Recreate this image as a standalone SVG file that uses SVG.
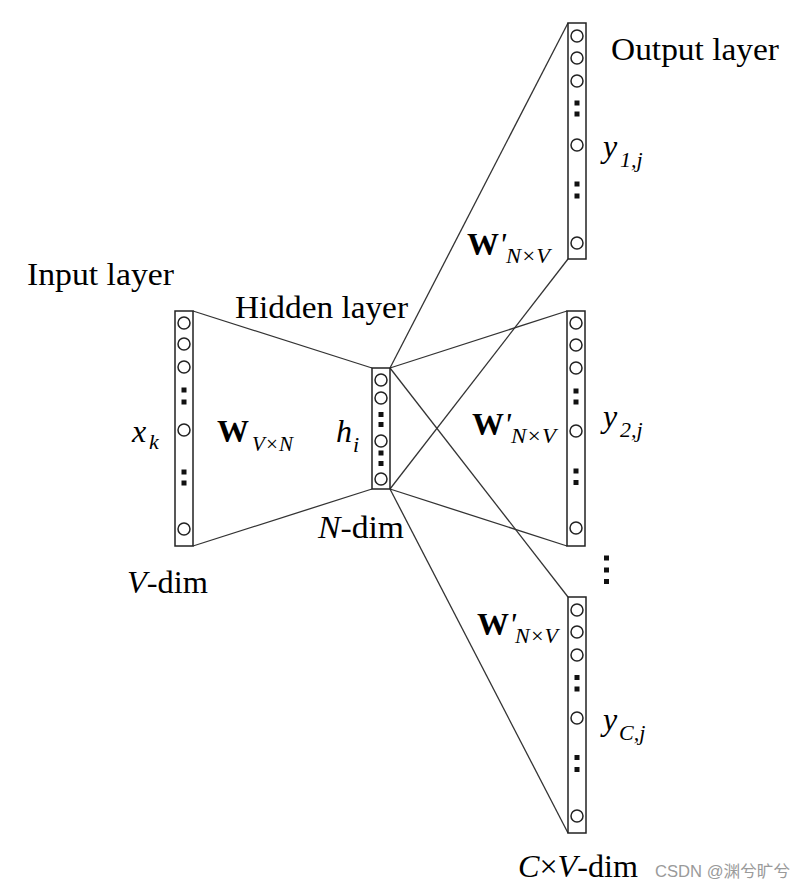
<svg xmlns="http://www.w3.org/2000/svg" width="807" height="892" viewBox="0 0 807 892">
<style>
.box{fill:#fff;stroke:#222;stroke-width:1.5}
.n{fill:#fff;stroke:#222;stroke-width:1.5}
.d{fill:#111}
.conn line{stroke:#333;stroke-width:1.3}
text{font-family:"Liberation Serif","Times New Roman",serif;fill:#000}
.lbl{font-size:31px}
.big{font-size:32px}
.it{font-style:italic}
.b{font-weight:bold}
.sub{font-size:22px;font-style:italic}
.wm{font-family:"Liberation Sans","Noto Sans CJK SC",sans-serif;font-size:16px;fill:#9a9a9a}
</style>
<rect width="807" height="892" fill="#fff"/>
<g class="conn" id="connectors">
<line x1="193" y1="311" x2="372" y2="368"/>
<line x1="193" y1="546" x2="372" y2="489"/>
<line x1="390" y1="368" x2="568" y2="23"/>
<line x1="390" y1="368" x2="567" y2="311"/>
<line x1="390" y1="368" x2="568" y2="597"/>
<line x1="390" y1="489" x2="568" y2="259"/>
<line x1="390" y1="489" x2="567" y2="546"/>
<line x1="390" y1="489" x2="568" y2="833"/>
</g>
<g id="input-layer">
<rect class="box" x="175" y="311" width="18" height="235"/>
<circle class="n" cx="184" cy="323" r="6"/>
<circle class="n" cx="184" cy="344" r="6"/>
<circle class="n" cx="184" cy="367" r="6"/>
<rect class="d" x="181.5" y="387.5" width="5" height="5"/>
<rect class="d" x="181.5" y="399.5" width="5" height="5"/>
<circle class="n" cx="184" cy="430" r="6"/>
<rect class="d" x="181.5" y="469.5" width="5" height="5"/>
<rect class="d" x="181.5" y="480.5" width="5" height="5"/>
<circle class="n" cx="184" cy="529" r="6"/>
</g>
<g id="hidden-layer">
<rect class="box" x="372" y="368" width="18" height="121"/>
<circle class="n" cx="381" cy="380" r="6"/>
<circle class="n" cx="381" cy="398" r="6"/>
<rect class="d" x="378.5" y="412" width="5" height="5"/>
<rect class="d" x="378.5" y="422" width="5" height="5"/>
<circle class="n" cx="381" cy="441" r="6"/>
<rect class="d" x="378.5" y="450.5" width="5" height="5"/>
<rect class="d" x="378.5" y="461" width="5" height="5"/>
<circle class="n" cx="381" cy="479" r="6"/>
</g>
<g id="output-layer-1">
<rect class="box" x="568" y="23" width="18" height="236"/>
<circle class="n" cx="577" cy="36" r="6"/>
<circle class="n" cx="577" cy="58" r="6"/>
<circle class="n" cx="577" cy="81" r="6"/>
<rect class="d" x="574.5" y="100.5" width="5" height="5"/>
<rect class="d" x="574.5" y="111.5" width="5" height="5"/>
<circle class="n" cx="577" cy="145" r="6"/>
<rect class="d" x="574.5" y="181.5" width="5" height="5"/>
<rect class="d" x="574.5" y="193.5" width="5" height="5"/>
<circle class="n" cx="577" cy="243" r="6"/>
</g>
<g id="output-layer-2">
<rect class="box" x="567" y="311" width="18" height="235"/>
<circle class="n" cx="576" cy="323" r="6"/>
<circle class="n" cx="576" cy="345" r="6"/>
<circle class="n" cx="576" cy="368" r="6"/>
<rect class="d" x="573.5" y="388.5" width="5" height="5"/>
<rect class="d" x="573.5" y="399.5" width="5" height="5"/>
<circle class="n" cx="576" cy="431" r="6"/>
<rect class="d" x="573.5" y="468.5" width="5" height="5"/>
<rect class="d" x="573.5" y="480" width="5" height="5"/>
<circle class="n" cx="576" cy="528" r="6"/>
</g>
<g id="output-layer-c">
<rect class="box" x="568" y="597" width="18" height="236"/>
<circle class="n" cx="577" cy="610" r="6"/>
<circle class="n" cx="577" cy="632" r="6"/>
<circle class="n" cx="577" cy="655" r="6"/>
<rect class="d" x="574.5" y="675" width="5" height="5"/>
<rect class="d" x="574.5" y="686.5" width="5" height="5"/>
<circle class="n" cx="577" cy="718" r="6"/>
<rect class="d" x="574.5" y="755" width="5" height="5"/>
<rect class="d" x="574.5" y="767" width="5" height="5"/>
<circle class="n" cx="577" cy="816" r="6"/>
</g>
<g id="vdots">
<rect class="d" x="604" y="555.5" width="5" height="5"/>
<rect class="d" x="604" y="567.5" width="5" height="5"/>
<rect class="d" x="604" y="579" width="5" height="5"/>
</g>
<g id="labels">
<text class="lbl" x="27" y="285" textLength="147" lengthAdjust="spacingAndGlyphs">Input layer</text>
<text class="lbl" x="235" y="318" textLength="173" lengthAdjust="spacingAndGlyphs">Hidden layer</text>
<text class="lbl" x="611" y="60" textLength="168" lengthAdjust="spacingAndGlyphs">Output layer</text>
<text class="big it" x="132" y="442">x</text>
<text class="sub" x="149" y="449">k</text>
<text class="big b" x="217" y="442">W</text>
<text class="sub" x="252" y="451" textLength="41" lengthAdjust="spacingAndGlyphs">V×N</text>
<text class="big it" x="336" y="442">h</text>
<text class="sub" x="353" y="452">i</text>
<text class="lbl" x="318" y="538" textLength="86" lengthAdjust="spacingAndGlyphs"><tspan class="it">N</tspan>-dim</text>
<text class="lbl" x="127" y="593" textLength="81" lengthAdjust="spacingAndGlyphs"><tspan class="it">V</tspan>-dim</text>
<text class="big" x="467" y="255"><tspan class="b">W</tspan><tspan class="it">'</tspan></text>
<text class="sub" x="506" y="263" textLength="44" lengthAdjust="spacingAndGlyphs">N×V</text>
<text class="big" x="472" y="435"><tspan class="b">W</tspan><tspan class="it">'</tspan></text>
<text class="sub" x="511" y="443" textLength="45" lengthAdjust="spacingAndGlyphs">N×V</text>
<text class="big" x="477" y="635"><tspan class="b">W</tspan><tspan class="it">'</tspan></text>
<text class="sub" x="515" y="643" textLength="43" lengthAdjust="spacingAndGlyphs">N×V</text>
<text class="big it" x="603" y="157">y</text>
<text class="sub" x="620" y="167">1,j</text>
<text class="big it" x="603" y="427">y</text>
<text class="sub" x="620" y="437">2,j</text>
<text class="big it" x="603" y="730">y</text>
<text class="sub" x="619" y="740">C,j</text>
<text class="lbl" x="518" y="877" textLength="120" lengthAdjust="spacingAndGlyphs"><tspan class="it">C</tspan>×<tspan class="it">V</tspan>-dim</text>
<text class="wm" x="655" y="877" textLength="135" lengthAdjust="spacingAndGlyphs">CSDN @渊兮旷兮</text>
</g>
</svg>
